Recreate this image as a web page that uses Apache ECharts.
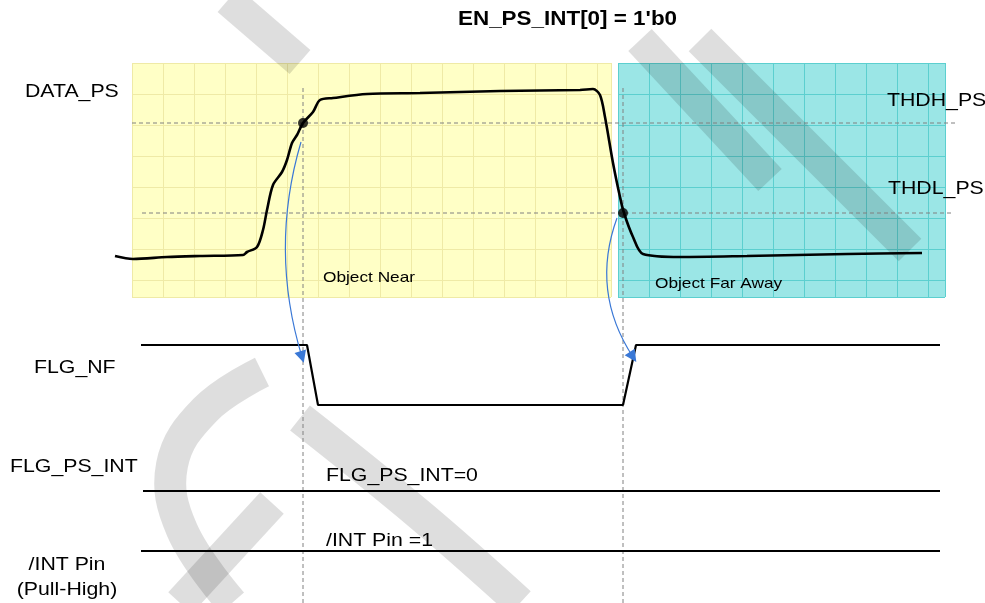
<!DOCTYPE html>
<html><head><meta charset="utf-8">
<script src="https://cdn.jsdelivr.net/npm/echarts@6/dist/echarts.min.js"></script>
<style>html,body{margin:0;padding:0;background:#fff}#c{width:985px;height:603px}</style>
</head><body><div id="c"></div>
<script>
// ---- data (diagram units: x = time, y = level, screen-like scale) ----
const dataPsX = [115,133,167,200,243,247,257,263,267,273,282,287,292,297,303,313,320,333,367,420,500,580,593,600,605,613,620,624,633,643,680,747,847,922];
const dataPsY = [256,259,257,256,255,252,247,230,210,185,172,160,143,135,123,112,100,98,94,93,91,90,89,95,117,163,197,213,237,254,257,256,254,253];
const thresholdNames = ['THDH_PS','THDL_PS'];
const thresholdLevels = [123,213];
const thresholdStart = [132,142];
const thresholdEnd = [955,952];
const eventTimes = [303,623];
const eventLevels = [123,213];
const flgNfX = [141,307,318,623,636,940];
const flgNfY = [345,345,405,405,345,345];
const flatSignals = ['FLG_PS_INT','/INT Pin\n(Pull-High)'];
const flatValues = ['FLG_PS_INT=0','/INT Pin =1'];
const flatLevels = [491,551];
const flatStart = [143,141];
const flatEnd = [940,940];
const arrowFrom = [[301,142],[617,218]];
const arrowTo = [[302,357],[633,357]];
const arrowBend = [-0.15,-0.25];
const zoneNames = ['Object Near','Object Far Away'];

const FONT = 'Liberation Sans, Arial, sans-serif';
const SX = 1.15;
const hidden = {show:false};
function bgAxis(gi, max, inverse){
  return {type:'value', gridIndex:gi, min:0, max:max, interval:31, inverse:!!inverse,
    axisLine:hidden, axisTick:hidden, axisLabel:hidden,
    splitLine:{show:true, lineStyle:{color: gi===1 ? '#EFEAA6' : '#5CCFCF', width:1}}};
}
const series = [];
thresholdLevels.forEach((lv,i)=>{
  series.push({type:'line', xAxisIndex:0, yAxisIndex:0, symbol:'none', silent:true, z:3,
    lineStyle:{color:'#808080', width:1, type:[4,3]},
    data:[[thresholdStart[i],lv],[thresholdEnd[i],lv]]});
});
eventTimes.forEach(t=>{
  series.push({type:'line', symbol:'none', z:3,
    lineStyle:{color:'#808080', width:1, type:[4,3]},
    data:[[t,88],[t,603]]});
});
series.push({type:'line', smooth:0.3, symbol:'none', z:5,
  lineStyle:{color:'#000', width:2.6},
  data:dataPsX.map((x,i)=>[x,dataPsY[i]])});
series.push({type:'scatter', symbol:'circle', symbolSize:10, z:6,
  itemStyle:{color:'#000'},
  data:eventTimes.map((t,i)=>[t,eventLevels[i]])});
series.push({type:'line', symbol:'none', z:5,
  lineStyle:{color:'#000', width:2.2},
  data:flgNfX.map((x,i)=>[x,flgNfY[i]])});
flatLevels.forEach((lv,i)=>{
  series.push({type:'line', symbol:'none', z:5,
    lineStyle:{color:'#000', width:2.2},
    data:[[flatStart[i],lv],[flatEnd[i],lv]]});
});
arrowFrom.forEach((p,i)=>{
  series.push({type:'lines', coordinateSystem:'cartesian2d', z:7,
    symbol:['none','triangle'], symbolSize:[9,12],
    lineStyle:{color:'#3A78D6', width:1.2, curveness:arrowBend[i], opacity:1},
    data:[{coords:[p, arrowTo[i]]}]});
});

// decorative watermark strokes (screen pixels, styling only)
const wm = [
  [[228,0],[300,62]],
  [[262,372],[205,410],[172,465],[182,530],[232,603]],
  [[180,603],[272,503]],
  [[300,418],[420,515],[520,603]],
  [[640,40],[770,180]],
  [[700,40],[910,250]]
];
const wmGraphics = wm.map(pts=>({type:'polyline', z:1, silent:true,
  shape:{points:pts, smooth:0.4},
  style:{stroke:'rgba(0,0,0,0.13)', lineWidth:32, fill:null, lineCap:'butt'}}));

const chart = echarts.init(document.getElementById('c'), null, {renderer:'canvas'});
const txt = (s, x, y, size, opt) => {
  opt = opt || {};
  return {type:'text', x:x, y:y, scaleX:SX, z:20,
    style:{text:s, fontSize:size, fontFamily:FONT, fill:'#000', fontWeight:opt.bold?'bold':'normal',
      textAlign:opt.align||'left', textVerticalAlign:'middle', lineHeight:opt.lh||size*1.2}};
};
chart.setOption({
  animation:false,
  backgroundColor:'#fff',
  grid:[
    {left:0, top:0, width:985, height:603, show:false},
    {left:132, top:63, width:479, height:234, show:true, backgroundColor:'#FFFFC6', borderWidth:0},
    {left:618, top:63, width:327, height:234, show:true, backgroundColor:'#9BE6E6', borderWidth:0}
  ],
  xAxis:[
    {type:'value', gridIndex:0, min:0, max:985, show:false},
    bgAxis(1,479), bgAxis(2,327)
  ],
  yAxis:[
    {type:'value', gridIndex:0, min:0, max:603, inverse:true, show:false},
    bgAxis(1,234,true), bgAxis(2,234,true)
  ],
  series:series,
  graphic:wmGraphics.concat([
    txt("EN_PS_INT[0] = 1'b0",458,20,19.5,{bold:true}),
    txt('DATA_PS',25,92,18.5),
    txt(thresholdNames[0],887,101,18.5),
    txt(thresholdNames[1],888,189,18.5),
    txt(zoneNames[0],323,278,15),
    txt(zoneNames[1],655,284,15),
    txt('FLG_NF',34,368,18.5),
    txt(flatSignals[0],10,467,18.5),
    txt(flatValues[0],326,476,18.5),
    txt(flatValues[1],326,541,18.5),
    txt(flatSignals[1],67,577,18.5,{align:'center', lh:25})
  ])
});
</script></body></html>
